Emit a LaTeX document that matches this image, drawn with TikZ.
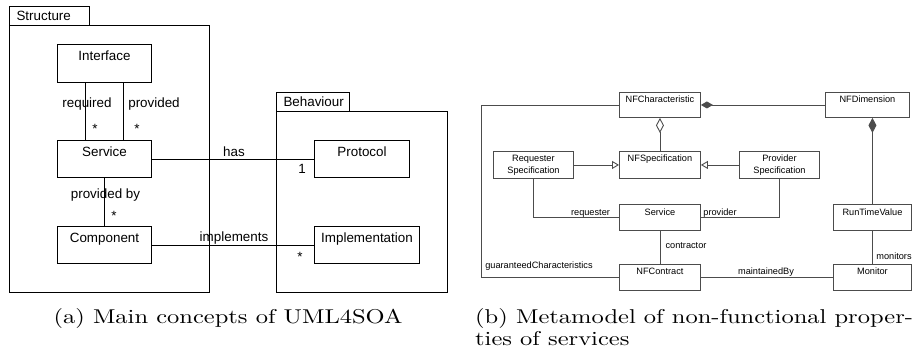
\documentclass[tikz,border=0pt]{standalone}
\usepackage{fontspec}
\usepackage{graphicx}
\newfontfamily\arialf{Liberation Sans}
\usetikzlibrary{arrows.meta,calc}
\definecolor{bgray}{gray}{0.3}
\newcommand{\capline}[1]{\scalebox{2.45}[2.0]{#1}}
\begin{document}
\begin{tikzpicture}[x=1pt,y=-1pt,
  abox/.style={draw, line width=1pt, inner sep=0pt, anchor=north west},
  atext/.style={font=\arialf\fontsize{13.4}{15}\selectfont, inner sep=0pt},
  alab/.style={font=\arialf\fontsize{13.4}{15}\selectfont, inner sep=0pt},
  aline/.style={line width=1pt},
  tabbox/.style={draw, line width=1pt, anchor=north west, inner xsep=7pt, inner ysep=0pt, minimum height=19pt, align=left, font=\arialf\fontsize{13.4}{15}\selectfont},
  bbox/.style={draw=bgray, line width=0.9pt, inner sep=0pt, anchor=north west},
  btext/.style={font=\arialf\fontsize{9.2}{12}\selectfont, inner sep=0pt, align=center},
  blab/.style={font=\arialf\fontsize{9.2}{12}\selectfont, inner sep=0pt},
  bconn/.style={draw=bgray, line width=0.9pt},
  captext/.style={font=\fontsize{10}{12}\selectfont, inner sep=0pt}
]
\useasboundingbox (0,0) rectangle (917,356);

% ---------------- (a) ----------------
\node[tabbox, text width=66pt] (stab) at (9,6) {Structure};
\node[abox, minimum width=200pt, minimum height=267pt] (spkg) at (9,25) {};
\node[tabbox, text width=59pt] (btab) at (276,92) {Behaviour};
\node[abox, minimum width=171pt, minimum height=181pt] (bpkg) at (276,111) {};

\node[abox, minimum width=94pt, minimum height=38pt,
  label={[atext, anchor=north, yshift=-7pt]north:Interface}] (iface) at (57,44) {};
\node[abox, minimum width=94pt, minimum height=37pt,
  label={[atext, anchor=north, yshift=-7pt]north:Service}] (svc) at (57,140) {};
\node[abox, minimum width=94pt, minimum height=37pt,
  label={[atext, anchor=north, yshift=-7pt]north:Component}] (comp) at (57,226) {};
\node[abox, minimum width=95pt, minimum height=37pt,
  label={[atext, anchor=north, yshift=-7pt]north:Protocol}] (proto) at (314,140) {};
\node[abox, minimum width=105pt, minimum height=37pt,
  label={[atext, anchor=north, yshift=-7pt]north:Implementation}] (impl) at (314,226) {};

\draw[aline] ([xshift=28.5pt]iface.south west) -- ([xshift=28.5pt]svc.north west);
\draw[aline] ([xshift=66.5pt]iface.south west) -- ([xshift=66.5pt]svc.north west);
\draw[aline] ([xshift=47.5pt]svc.south west) -- ([xshift=47.5pt]comp.north west);
\draw[aline] (svc.east) -- (proto.west);
\draw[aline] (comp.east) -- (impl.west);

\node[alab] (lreq) at (87,104) {required};
\node[alab] (lprov) at (154,104) {provided};
\node[alab] (sreq) at (95,129) {*};
\node[alab] (sprov) at (137,129) {*};
\node[alab] (lpby) at (105.5,195) {provided by};
\node[alab] (spby) at (114,216) {*};
\node[alab] (lhas) at (234,152) {has};
\node[alab] (lone) at (302,169) {1};
\node[alab] (limp) at (234,238) {implements};
\node[alab] (simp) at (300,257) {*};

% ---------------- (b) ----------------
\node[bbox, minimum width=81pt, minimum height=25pt,
  label={[btext, anchor=north, yshift=-4pt]north:NFCharacteristic}] (nfchar) at (619,92) {};
\node[bbox, minimum width=84pt, minimum height=25pt,
  label={[btext, anchor=north, yshift=-4pt]north:NFDimension}] (nfdim) at (825,92) {};
\node[bbox, minimum width=81pt, minimum height=27pt,
  label={[btext, anchor=north, yshift=-4pt]north:NFSpecification}] (nfspec) at (619,151) {};
\node[bbox, minimum width=80pt, minimum height=27pt,
  label={[btext, anchor=north, yshift=-4pt]north:Requester\\Specification}] (req) at (493,151) {};
\node[bbox, minimum width=80pt, minimum height=27pt,
  label={[btext, anchor=north, yshift=-4pt]north:Provider\\Specification}] (prov) at (739,151) {};
\node[bbox, minimum width=81pt, minimum height=26pt,
  label={[btext, anchor=north, yshift=-5pt]north:Service}] (bsvc) at (619,204) {};
\node[bbox, minimum width=78pt, minimum height=26pt,
  label={[btext, anchor=north, yshift=-5pt]north:RunTimeValue}] (rtv) at (833,204) {};
\node[bbox, minimum width=81pt, minimum height=26pt,
  label={[btext, anchor=north, yshift=-4pt]north:NFContract}] (nfcon) at (619,264) {};
\node[bbox, minimum width=78pt, minimum height=26pt,
  label={[btext, anchor=north, yshift=-4pt]north:Monitor}] (mon) at (833,264) {};

\draw[bconn, -{Diamond[length=12pt, width=7pt]}] (nfdim.west) -- (nfchar.east);
\draw[bconn, -{Diamond[open, length=15pt, width=8pt]}] (nfspec.north) -- (nfchar.south);
\draw[bconn, -{Triangle[open, length=7pt, width=8pt]}] (req.east) -- (nfspec.west);
\draw[bconn, -{Triangle[open, length=7pt, width=8pt]}] (prov.west) -- (nfspec.east);
\draw[bconn] (req.south) |- (bsvc.west);
\draw[bconn] (prov.south) |- (bsvc.east);
\draw[bconn] (bsvc.south) -- (nfcon.north);
\draw[bconn, -{Diamond[length=15pt, width=8pt]}] (rtv.north) -- (rtv.north |- nfdim.south);
\draw[bconn] (rtv.south) -- (mon.north);
\draw[bconn] (nfcon.east) -- (mon.west);
\draw[bconn] (nfchar.west) -| ([xshift=-138pt]nfcon.west) -- (nfcon.west);

\node[blab] (lrq) at (590.5,213) {requester};
\node[blab] (lpv) at (720,213) {provider};
\node[blab] (lct) at (686,246) {contractor};
\node[blab] (lmn) at (894,256) {monitors};
\node[blab] (lmb) at (766,272) {maintainedBy};
\node[blab] (lgc) at (539,266) {guaranteedCharacteristics};

% ---------------- captions ----------------
\node[captext, anchor=base] (capa) at (228,323) {\capline{(a) Main concepts of UML4SOA}};
\node[captext, anchor=base west] (capb1) at (475,323) {\capline{(b) Metamodel of non-functional proper-}};
\node[captext, anchor=base west] (capb2) at (475,345) {\capline{ties of services}};
\end{tikzpicture}
\end{document}
